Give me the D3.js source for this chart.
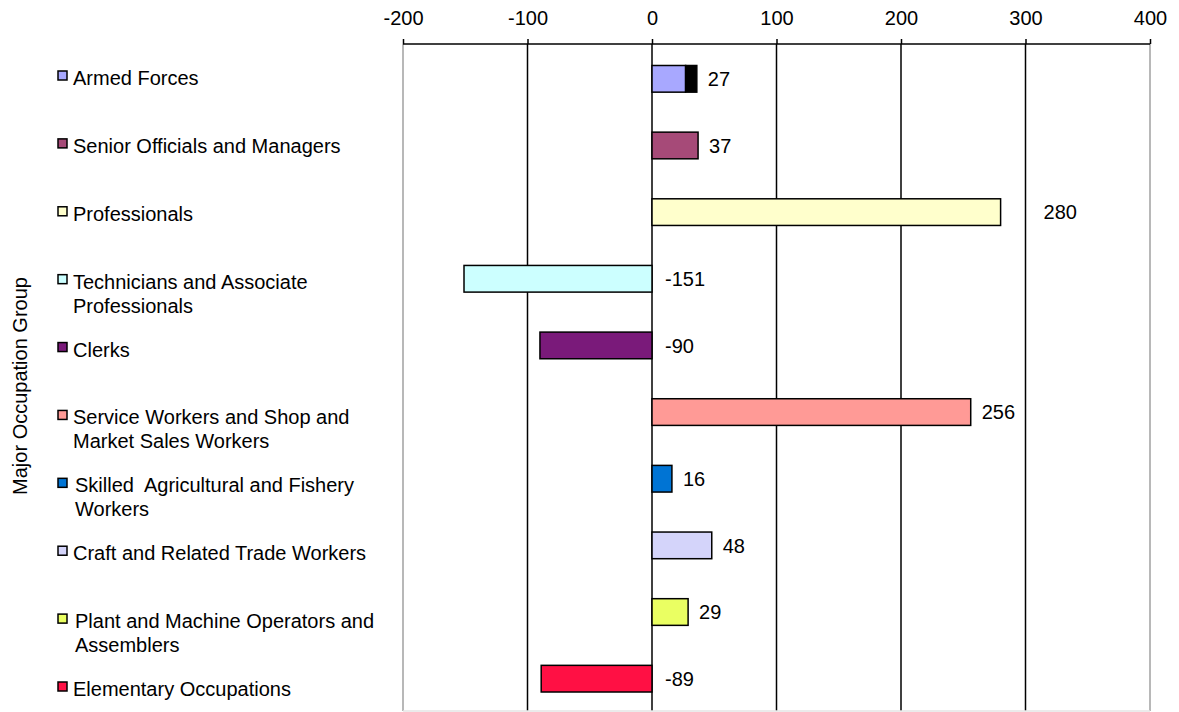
<!DOCTYPE html>
<html>
<head>
<meta charset="utf-8">
<script src="https://cdn.jsdelivr.net/npm/d3@7"></script>
<style>
  body { margin: 0; background: #fff; }
  text { font-family: "Liberation Sans", Arial, sans-serif; }
</style>
</head>
<body>
<div id="chart"></div>
<script>
// data
var categories = ["Armed Forces", "Senior Officials and Managers", "Professionals",
  "Technicians and Associate Professionals", "Clerks",
  "Service Workers and Shop and Market Sales Workers",
  "Skilled  Agricultural and Fishery Workers", "Craft and Related Trade Workers",
  "Plant and Machine Operators and Assemblers", "Elementary Occupations"];
var legendLines = [["Armed Forces"], ["Senior Officials and Managers"], ["Professionals"],
  ["Technicians and Associate", "Professionals"], ["Clerks"],
  ["Service Workers and Shop and", "Market Sales Workers"],
  ["Skilled  Agricultural and Fishery", "Workers"], ["Craft and Related Trade Workers"],
  ["Plant and Machine Operators and", "Assemblers"], ["Elementary Occupations"]];
var values = [27, 37, 280, -151, -90, 256, 16, 48, 29, -89];
var extraValues = [9, 0, 0, 0, 0, 0, 0, 0, 0, 0]; // black piece on the first bar
var colors = ["#a8a8ff", "#a64a78", "#ffffcc", "#ccffff", "#7a1a7a",
  "#ff9a96", "#0074d4", "#d4d4fa", "#eaff62", "#ff1044"];
var xTicks = [-200, -100, 0, 100, 200, 300, 400];

var width = 1179, height = 712;
var fontSize = 20;
var svg = d3.select("#chart").append("svg")
  .attr("width", width).attr("height", height);

var x = d3.scaleLinear().domain([-200, 400]).range([403, 1150]);
var y = d3.scaleBand().domain(categories).range([45.5, 712]).paddingInner(0.6).paddingOuter(0.3);
var legendY = d3.scalePoint().domain(categories).range([78, 689]);

var plotTop = 44, plotBottom = 711;

// gridlines (outer ones grey like the plot border)
svg.selectAll("line.grid").data(xTicks).enter().append("line")
  .attr("class", "grid")
  .attr("x1", function(d) { return x(d); })
  .attr("x2", function(d) { return x(d); })
  .attr("y1", plotTop).attr("y2", plotBottom)
  .attr("stroke", function(d) { return (d == -200 || d == 400) ? "#a0a0a0" : "#000"; })
  .attr("stroke-width", 1.5);

svg.append("line").attr("x1", x(-200)).attr("x2", x(400))
  .attr("y1", plotBottom).attr("y2", plotBottom)
  .attr("stroke", "#e4e4e4").attr("stroke-width", 1.5);

// top axis (plain hyphen for the minus sign, like the original)
var axis = d3.axisTop(x).tickValues(xTicks).tickSize(5).tickPadding(14)
  .tickFormat(function(d) { return String(d); });
var ax = svg.append("g").attr("transform", "translate(0," + plotTop + ")").call(axis);
ax.select(".domain").attr("stroke-width", 1.5).attr("d", "M" + x(-200) + ",0H" + x(400));
ax.selectAll(".tick line").attr("stroke-width", 1.5);
ax.selectAll(".tick text").attr("font-size", fontSize).attr("fill", "#000")
  .style("font-family", "'Liberation Sans', Arial, sans-serif");

// bars
svg.selectAll("rect.bar").data(values).enter().append("rect")
  .attr("class", "bar")
  .attr("x", function(d) { return x(Math.min(0, d)); })
  .attr("y", function(d, i) { return y(categories[i]); })
  .attr("width", function(d) { return Math.abs(x(d) - x(0)); })
  .attr("height", y.bandwidth())
  .attr("fill", function(d, i) { return colors[i]; })
  .attr("stroke", "#000").attr("stroke-width", 1.5);

svg.selectAll("rect.extra").data(extraValues).enter()
  .filter(function(d) { return d > 0; })
  .append("rect")
  .attr("class", "extra")
  .attr("x", function(d, i) { return x(values[i]); })
  .attr("y", function(d, i) { return y(categories[i]); })
  .attr("width", function(d, i) { return x(values[i] + d) - x(values[i]); })
  .attr("height", y.bandwidth())
  .attr("fill", "#000").attr("stroke", "#000").attr("stroke-width", 1.5);

// value labels
svg.selectAll("text.val").data(values).enter().append("text")
  .attr("class", "val")
  .attr("x", function(d, i) {
    if (d < 0) return x(0) + 13;
    if (i == 2) return x(d) + 43; // this one sits further out in the original
    return x(d + extraValues[i]) + 11;
  })
  .attr("y", function(d, i) { return y(categories[i]) + y.bandwidth() / 2; })
  .attr("dy", "0.36em")
  .attr("font-size", fontSize)
  .text(function(d) { return d; });

// legend on the left
var leg = svg.selectAll("g.leg").data(categories).enter().append("g")
  .attr("class", "leg")
  .attr("transform", function(d) { return "translate(0," + legendY(d) + ")"; });
leg.append("rect")
  .attr("x", 58).attr("y", -7).attr("width", 9).attr("height", 9)
  .attr("fill", function(d, i) { return colors[i]; })
  .attr("stroke", "#000").attr("stroke-width", 1.5);
leg.each(function(d, i) {
  var tx = (i == 6 || i == 8) ? 75 : 73;
  var t = d3.select(this).append("text")
    .attr("font-size", fontSize)
    .style("white-space", "pre");
  legendLines[i].forEach(function(line, j) {
    t.append("tspan").attr("x", tx).attr("y", j * 24).attr("dy", "0.35em").text(line);
  });
});

// y title
svg.append("text")
  .attr("transform", "translate(27,386) rotate(-90)")
  .attr("text-anchor", "middle")
  .attr("font-size", fontSize)
  .text("Major Occupation Group");
</script>
</body>
</html>
